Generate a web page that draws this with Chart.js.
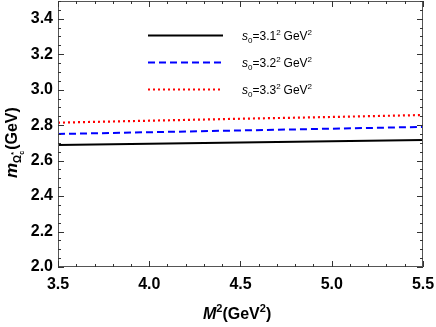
<!DOCTYPE html>
<html>
<head>
<meta charset="utf-8">
<script src="https://cdn.jsdelivr.net/npm/chart.js@4/dist/chart.umd.min.js"></script>
<style>
  html, body { margin: 0; padding: 0; background: #fff; }
  #wrap { width: 436px; height: 327px; }
</style>
</head>
<body>
<div id="wrap"><canvas id="massChart" width="436" height="327"></canvas></div>
<script>
// M^2 (GeV^2) sample points
const borelM2 = [3.5, 4.0, 4.5, 5.0, 5.5];
// mass (GeV) for each threshold
const massS31 = [2.688, 2.695, 2.702, 2.709, 2.716];
const massS32 = [2.750, 2.760, 2.770, 2.780, 2.790];
const massS33 = [2.814, 2.825, 2.836, 2.846, 2.857];
const seriesLabels = ['3.1', '3.2', '3.3'];
const xTicks = [3.5, 4.0, 4.5, 5.0, 5.5];
const yTicks = [2.0, 2.2, 2.4, 2.6, 2.8, 3.0, 3.2, 3.4];

const fam = '"Liberation Sans", Arial, sans-serif';

function pts(ys) {
    return borelM2.map((x, i) => ({ x: x, y: ys[i] }));
}

// frame ticks on all four sides, pointing inward, plus minor ticks
const frameTicks = {
    id: 'frameTicks',
    afterDraw(chart) {
        const ctx = chart.ctx;
        const a = chart.chartArea;
        const xs = chart.scales.x, ys = chart.scales.y;
        ctx.save();
        ctx.strokeStyle = '#555';
        ctx.lineWidth = 1;
        ctx.strokeRect(a.left + 0.5, a.top + 0.5, a.right - a.left - 1, a.bottom - a.top - 1);
        ctx.strokeStyle = '#333';
        ctx.beginPath();
        for (let v = 3.5; v <= 5.5001; v += 0.1) {
            const major = Math.abs(v * 2 - Math.round(v * 2)) < 1e-6;
            const len = major ? 6 : 3;
            const px = Math.round(xs.getPixelForValue(v)) + 0.5;
            ctx.moveTo(px, a.bottom); ctx.lineTo(px, a.bottom - len);
            ctx.moveTo(px, a.top); ctx.lineTo(px, a.top + len);
        }
        for (let v = 2.0; v <= 3.5001; v += 0.05) {
            const major = Math.abs(v * 5 - Math.round(v * 5)) < 1e-6;
            const len = major ? 6 : 3;
            const py = Math.round(ys.getPixelForValue(v)) + 0.5;
            ctx.moveTo(a.left, py); ctx.lineTo(a.left + len, py);
            ctx.moveTo(a.right, py); ctx.lineTo(a.right - len, py);
        }
        ctx.stroke();
        ctx.restore();
    }
};

// axis titles with sub/superscripts
const axisTitles = {
    id: 'axisTitles',
    afterDraw(chart) {
        const ctx = chart.ctx;
        ctx.save();
        ctx.fillStyle = '#000';
        ctx.textBaseline = 'alphabetic';
        // x title: M^2(GeV^2)
        let x = 203, y = 319;
        ctx.font = 'italic bold 16px ' + fam;
        ctx.fillText('M', x, y); x += ctx.measureText('M').width;
        ctx.font = 'bold 11px ' + fam;
        ctx.fillText('2', x, y - 7); x += ctx.measureText('2').width;
        ctx.font = 'bold 16px ' + fam;
        ctx.fillText('(GeV', x, y); x += ctx.measureText('(GeV').width;
        ctx.font = 'bold 11px ' + fam;
        ctx.fillText('2', x, y - 7); x += ctx.measureText('2').width;
        ctx.font = 'bold 16px ' + fam;
        ctx.fillText(')', x, y);

        // y title: m_{Omega_c^*}(GeV), rotated
        ctx.translate(17, 0);
        ctx.rotate(-Math.PI / 2);
        x = -178; y = 0;
        ctx.font = 'italic bold 17px ' + fam;
        ctx.fillText('m', x, y); x += ctx.measureText('m').width;
        ctx.font = 'bold 10px ' + fam;
        ctx.fillText('\u03a9', x, y + 4); const ow = ctx.measureText('\u03a9').width;
        ctx.font = 'bold 7px ' + fam;
        ctx.fillText('*', x + ow, y - 1);
        ctx.fillText('c', x + ow, y + 7);
        x += ow + 5;
        ctx.font = 'bold 16px ' + fam;
        ctx.fillText('(GeV)', x, y);
        ctx.restore();
    }
};

// legend inside plot
const innerLegend = {
    id: 'innerLegend',
    afterDraw(chart) {
        const ctx = chart.ctx;
        ctx.save();
        chart.data.datasets.forEach((ds, i) => {
            const y = 35.5 + i * 27.0;
            ctx.strokeStyle = ds.borderColor;
            ctx.lineWidth = ds.borderWidth;
            ctx.setLineDash(ds.borderDash || []);
            ctx.beginPath();
            ctx.moveTo(148, y); ctx.lineTo(223, y);
            ctx.stroke();
            ctx.setLineDash([]);
            ctx.fillStyle = '#000';
            let x = 242, ty = y + 4;
            ctx.font = 'italic 12px ' + fam;
            ctx.fillText('s', x, ty); x += ctx.measureText('s').width;
            ctx.font = '8px ' + fam;
            ctx.fillText('0', x, ty + 3); x += ctx.measureText('0').width;
            ctx.font = '12px ' + fam;
            const t = '=' + seriesLabels[i];
            ctx.fillText(t, x, ty); x += ctx.measureText(t).width;
            ctx.font = '8px ' + fam;
            ctx.fillText('2', x, ty - 5); x += ctx.measureText('2').width + 3;
            ctx.font = '12px ' + fam;
            ctx.fillText('GeV', x, ty); x += ctx.measureText('GeV').width;
            ctx.font = '8px ' + fam;
            ctx.fillText('2', x, ty - 5);
        });
        ctx.restore();
    }
};

let massChart = new Chart(document.getElementById('massChart'), {
    type: 'scatter',
    data: {
        datasets: [{
            data: pts(massS31),
            showLine: true,
            borderColor: '#000000',
            borderWidth: 2,
            pointRadius: 0
        }, {
            data: pts(massS32),
            showLine: true,
            borderColor: '#0000ff',
            borderWidth: 2,
            borderDash: [7, 4],
            pointRadius: 0
        }, {
            data: pts(massS33),
            showLine: true,
            borderColor: '#ff0000',
            borderWidth: 2.2,
            borderDash: [2, 3],
            pointRadius: 0
        }]
    },
    options: {
        responsive: false,
        animation: { duration: 0 },
        layout: { padding: { top: 1, right: 13, left: 0, bottom: 0 } },
        scales: {
            x: {
                type: 'linear',
                min: 3.5,
                max: 5.5,
                afterBuildTicks: s => { s.ticks = xTicks.map(v => ({ value: v })); },
                afterFit: s => { s.height = 60; s.paddingLeft = 0; s.paddingRight = 0; },
                grid: { display: false, drawTicks: false },
                border: { display: false },
                ticks: {
                    padding: 8,
                    color: '#000',
                    font: { family: fam, size: 16, weight: 'bold' },
                    callback: v => v.toFixed(1),
                    maxRotation: 0
                }
            },
            y: {
                type: 'linear',
                min: 2.0,
                max: 3.5,
                afterBuildTicks: s => { s.ticks = yTicks.map(v => ({ value: v })); },
                afterFit: s => { s.width = 58; s.paddingTop = 0; s.paddingBottom = 0; },
                grid: { display: false, drawTicks: false },
                border: { display: false },
                ticks: {
                    padding: 5,
                    color: '#000',
                    font: { family: fam, size: 16, weight: 'bold' },
                    callback: v => v.toFixed(1)
                }
            }
        },
        plugins: {
            legend: { display: false },
            tooltip: { enabled: false }
        }
    },
    plugins: [frameTicks, axisTitles, innerLegend]
});
</script>
</body>
</html>
